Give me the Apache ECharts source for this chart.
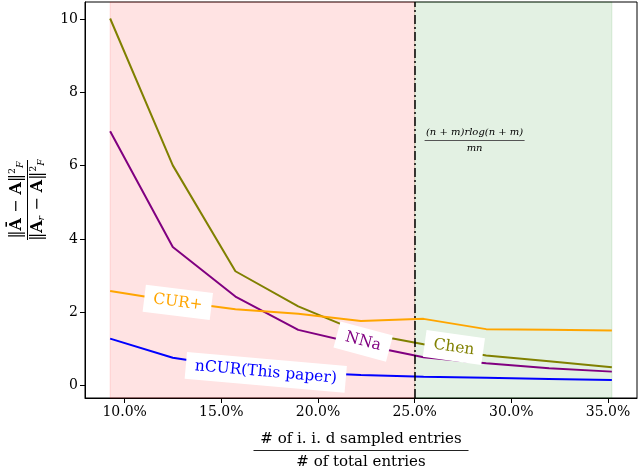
<!DOCTYPE html>
<html><head><meta charset="utf-8">
<script src="https://cdn.jsdelivr.net/npm/echarts@6/dist/echarts.min.js"></script>
<style>html,body{margin:0;padding:0;background:#fff}#c{width:640px;height:468px}</style>
</head><body><div id="c"></div>
<script>
// ---- data ----
const sampleRates = [9.25, 12.49, 15.73, 18.98, 22.22, 25.46, 28.70, 31.95, 35.20]; // % of entries
const chen  = [10.02, 6.01, 3.12, 2.16, 1.45, 1.13, 0.82, 0.66, 0.50];
const nna   = [6.94, 3.78, 2.43, 1.52, 1.12, 0.77, 0.61, 0.47, 0.38];
const curPlus = [2.58, 2.31, 2.08, 1.96, 1.76, 1.82, 1.54, 1.52, 1.50];
const ncur  = [1.28, 0.76, 0.50, 0.36, 0.29, 0.24, 0.21, 0.18, 0.15];
const xTicks = [10, 15, 20, 25, 30, 35];
const yTicks = [0, 2, 4, 6, 8, 10];
const threshold = 25;          // vertical dash-dot line
const regionStart = 9.25, regionEnd = 35.2;
// inline label anchors [x, y] in data units
const lblCur = [12.75, 2.27], lblNna = [22.34, 1.20], lblNcur = [17.3, 0.36], lblChen = [27.03, 1.04];
const annot = [28.1, 6.69];

const serif = '"DejaVu Serif", serif';
function zip(a){ return sampleRates.map((x,i)=>[x,a[i]]); }
function inlineLabel(txt, pos, color, rot){
  return { symbol:'rect', symbolSize:0, coord:pos,
    label:{ show:true, position:'inside', formatter:txt, color:color, fontFamily:serif, fontSize:15.5,
      backgroundColor:'#fff', padding:[6,9,5,9], rotate:rot } };
}
function line(name, data, color, lbl){
  return { name, type:'line', data:zip(data), symbol:'none', z:3,
    lineStyle:{ color, width:2 }, itemStyle:{color},
    markPoint:{ z:5, silent:true, data:[lbl] } };
}

const chart = echarts.init(document.getElementById('c'), null, {renderer:'canvas'});
chart.setOption({
  animation:false,
  backgroundColor:'#fff',
  grid:{ left:85, right:3, top:2, bottom:70, outerBoundsMode:'none', containLabel:false,
    show:true, borderColor:'#000', borderWidth:1, backgroundColor:'transparent' },
  xAxis:{ type:'value', min:7.95, max:36.5,
    axisLine:{ onZero:false, lineStyle:{color:'#000', width:1} },
    axisTick:{ length:5, lineStyle:{color:'#000'}, customValues:xTicks },
    axisLabel:{ customValues:xTicks, formatter:v=>v.toFixed(1)+'%', color:'#000', fontFamily:serif, fontSize:14, margin:7 },
    splitLine:{show:false},
    name:'{t|# of i. i. d sampled entries}\n{l|}\n{b|# of total entries}',
    nameLocation:'middle', nameGap:31,
    nameTextStyle:{ align:'center', verticalAlign:'top', rich:{
      t:{ fontFamily:serif, fontSize:15, color:'#000', lineHeight:20, align:'center' },
      l:{ width:215, height:1, backgroundColor:'#222', lineHeight:3, align:'center' },
      b:{ fontFamily:serif, fontSize:15, color:'#000', lineHeight:20, align:'center' } } }
  },
  yAxis:{ type:'value', min:-0.34, max:10.47,
    axisLine:{ show:true, onZero:false, lineStyle:{color:'#000', width:1} },
    axisTick:{ show:true, length:5, lineStyle:{color:'#000'}, customValues:yTicks },
    axisLabel:{ customValues:yTicks, color:'#000', fontFamily:serif, fontSize:14, margin:7 },
    splitLine:{show:false},
    name:'{n|‖}{nb|Ā}{n| − }{nb|A}{n|‖}{sup|2}{sub|F}\n{l|}\n{n|‖}{nb|A}{sub|r}{n| − }{nb|A}{n|‖}{sup|2}{sub|F}',
    nameLocation:'middle', nameRotate:90, nameGap:38,
    nameTextStyle:{ align:'center', rich:{
      n:{ fontFamily:serif, fontSize:16, color:'#000', lineHeight:18 },
      nb:{ fontFamily:serif, fontSize:16, fontWeight:'bold', color:'#000', lineHeight:18 },
      sup:{ fontFamily:serif, fontSize:9.5, color:'#000', verticalAlign:'top', lineHeight:18, padding:[0,0,8,0] },
      sub:{ fontFamily:serif, fontSize:9.5, fontStyle:'italic', color:'#000', verticalAlign:'bottom', lineHeight:18 },
      l:{ width:80, height:1, backgroundColor:'#000', lineHeight:3, align:'center' } } }
  },
  series:[
    { type:'line', data:[], silent:true, z:1,
      markArea:{ silent:true, data:[
        [{ xAxis:regionStart, itemStyle:{ color:'rgba(255,0,0,0.11)', borderColor:'rgba(255,0,0,0.12)', borderWidth:1 } }, { xAxis:threshold }],
        [{ xAxis:threshold, itemStyle:{ color:'rgba(0,128,0,0.11)', borderColor:'rgba(0,128,0,0.12)', borderWidth:1 } }, { xAxis:regionEnd }]
      ]},
      markLine:{ silent:true, symbol:'none', label:{show:false}, z:4,
        lineStyle:{ color:'#000', width:1.5, type:[9,3,2,3] }, data:[{ xAxis:threshold }] },
      markPoint:{ silent:true, data:[{ symbol:'rect', symbolSize:0, coord:annot,
        label:{ show:true, position:'inside', formatter:'{t|(n + m)rlog(n + m)}\n{l|}\n{b|mn}',
          rich:{ t:{ fontFamily:serif, fontStyle:'italic', fontSize:10, color:'#000', align:'center', lineHeight:13 },
                 l:{ width:100, height:1, backgroundColor:'#555', lineHeight:3, align:'center' },
                 b:{ fontFamily:serif, fontStyle:'italic', fontSize:10, color:'#000', align:'center', lineHeight:13 } } } }] }
    },
    line('Chen', chen, '#808000', inlineLabel('Chen', lblChen, '#808000', -8)),
    line('NNa', nna, '#800080', inlineLabel('NNa', lblNna, '#800080', -15)),
    line('CUR+', curPlus, '#FFA500', inlineLabel('CUR+', lblCur, '#FFA500', -7)),
    line('nCUR', ncur, '#0000FF', inlineLabel('nCUR(This paper)', lblNcur, '#0000FF', -5))
  ]
});
</script></body></html>
